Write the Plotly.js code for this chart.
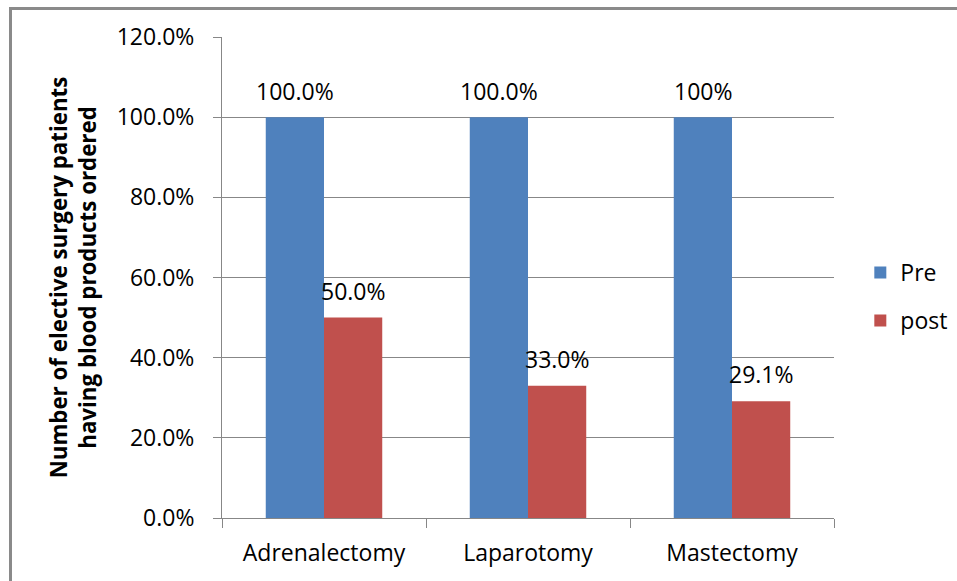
<!DOCTYPE html>
<html>
<head>
<meta charset="utf-8">
<script src="https://cdn.plot.ly/plotly-3.0.1.min.js"></script>
<style>
  html, body { margin: 0; padding: 0; background: #fff; }
  #wrap { position: relative; width: 957px; height: 581px; overflow: hidden; }
  #chart { width: 957px; height: 581px; }
  #frame { position: absolute; left: 9px; top: 7px; width: 960px; height: 600px;
           border-left: 3px solid #8a8a8a; border-top: 3px solid #8a8a8a; pointer-events: none; }
</style>
</head>
<body>
<div id="wrap">
  <div id="chart"></div>
  <div id="frame"></div>
</div>
<script>
const categories = ['Adrenalectomy', 'Laparotomy', 'Mastectomy'];
const preValues = [1.0, 1.0, 1.0];
const postValues = [0.50, 0.33, 0.291];
const preLabels = ['100.0%', '100.0%', '100%'];
const postLabels = ['50.0%', '33.0%', '29.1%'];
const seriesNames = ['Pre', 'post'];
const yTickVals = [0, 0.2, 0.4, 0.6, 0.8, 1.0, 1.2];
const yTickText = ['0.0%', '20.0%', '40.0%', '60.0%', '80.0%', '100.0%', '120.0%'];

const FONT = 'Open Sans, Lato, sans-serif';
const FS = 23;
const gridColor = '#878787';

const traces = [
  { type: 'bar', name: seriesNames[0], x: categories, y: preValues,
    marker: { color: '#4F81BD' }, legendgroup: 'a', hoverinfo: 'none' },
  { type: 'bar', name: seriesNames[1], x: categories, y: postValues,
    marker: { color: '#C0504D' }, legendgroup: 'b', hoverinfo: 'none' }
];

const annotations = [];
categories.forEach((c, i) => {
  annotations.push({ x: c, y: preValues[i], xref: 'x', yref: 'y', text: preLabels[i],
    showarrow: false, xshift: -29.2, yshift: 26, yanchor: 'middle',
    font: { family: FONT, size: FS, color: '#000' } });
  annotations.push({ x: c, y: postValues[i], xref: 'x', yref: 'y', text: postLabels[i],
    showarrow: false, xshift: 29.2, yshift: 27, yanchor: 'middle',
    font: { family: FONT, size: FS, color: '#000' } });
});

const layout = {
  width: 957, height: 581,
  margin: { l: 222, r: 123, t: 37, b: 63, pad: 0, autoexpand: false },
  paper_bgcolor: '#fff', plot_bgcolor: '#fff',
  font: { family: FONT, size: FS, color: '#000' },
  barmode: 'group', bargap: 0.429, bargroupgap: 0,
  showlegend: true,
  legend: { x: 1.043, xanchor: 'left', y: 0.555, yanchor: 'top',
            font: { family: FONT, size: FS, color: '#000' },
            tracegroupgap: 15, traceorder: 'grouped', bgcolor: 'rgba(0,0,0,0)' },
  xaxis: { type: 'category', showgrid: false, showline: true, linecolor: gridColor, linewidth: 1,
           ticks: 'outside', tickson: 'boundaries', ticklen: 9, tickcolor: gridColor,
           ticklabelstandoff: 14, fixedrange: true,
           tickfont: { family: FONT, size: FS, color: '#000' } },
  yaxis: { range: [0, 1.2], tickvals: yTickVals, ticktext: yTickText,
           showgrid: true, gridcolor: gridColor, gridwidth: 1,
           showline: true, linecolor: gridColor, linewidth: 1, zeroline: false,
           ticks: 'outside', ticklen: 8, tickcolor: gridColor, ticklabelstandoff: 14,
           fixedrange: true,
           tickfont: { family: FONT, size: FS, color: '#000' },
           title: { text: '<b>Number of elective surgery patients<br>having blood products ordered</b>',
                    standoff: 13, font: { family: FONT, size: 22.3, color: '#000' } } },
  annotations: annotations
};

Plotly.newPlot('chart', traces, layout, { staticPlot: true, displayModeBar: false });
</script>
</body>
</html>
